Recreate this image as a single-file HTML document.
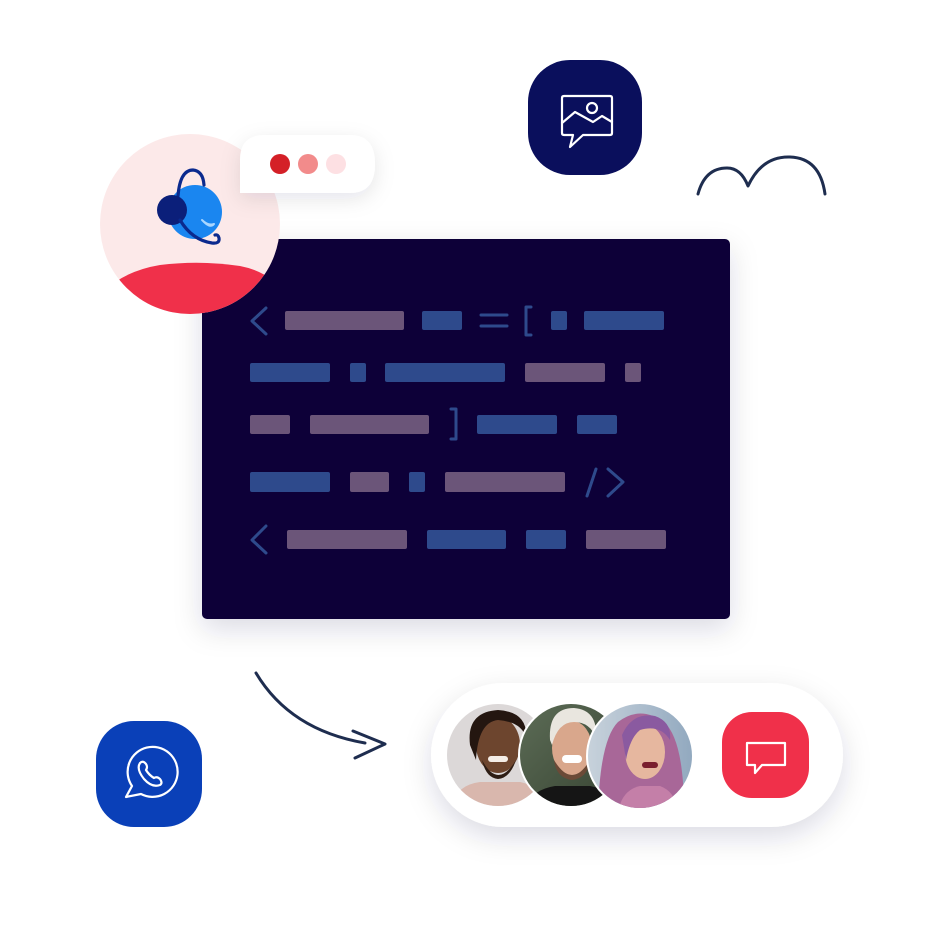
<!DOCTYPE html>
<html><head><meta charset="utf-8">
<style>
html,body{margin:0;padding:0;background:#fff;}
body{width:940px;height:945px;overflow:hidden;font-family:"Liberation Sans",sans-serif;}
svg{display:block;}
</style></head>
<body>
<svg width="940" height="945" viewBox="0 0 940 945" xmlns="http://www.w3.org/2000/svg">
<defs>
  <filter id="sh" x="-30%" y="-30%" width="160%" height="170%">
    <feDropShadow dx="0" dy="10" stdDeviation="14" flood-color="#1a1a40" flood-opacity="0.14"/>
  </filter>
  <filter id="sh2" x="-30%" y="-50%" width="160%" height="200%">
    <feDropShadow dx="0" dy="6" stdDeviation="10" flood-color="#1a1a40" flood-opacity="0.10"/>
  </filter>
  <clipPath id="cav"><circle cx="190" cy="224" r="90"/></clipPath>
  <clipPath id="c1"><circle cx="498" cy="755" r="51"/></clipPath>
  <clipPath id="c2"><circle cx="571" cy="755" r="51"/></clipPath>
  <clipPath id="c3"><circle cx="640" cy="756" r="52"/></clipPath>
  <linearGradient id="bg2" x1="0" y1="0" x2="1" y2="1">
    <stop offset="0" stop-color="#5e6e58"/><stop offset="1" stop-color="#34402f"/>
  </linearGradient>
  <linearGradient id="bg3" x1="0" y1="0" x2="1" y2="0">
    <stop offset="0" stop-color="#c9d3dc"/><stop offset="1" stop-color="#8ea6bd"/>
  </linearGradient>
</defs>

<!-- code panel -->
<rect x="202" y="239" width="528" height="380" rx="5" fill="#080439" filter="url(#sh)"/>

<!-- code tokens -->
<g stroke="#2e4a8c" stroke-width="3" fill="none" stroke-linecap="round" stroke-linejoin="round">
  <polyline points="266,308 252,321 266,334"/>
  <line x1="481" y1="315" x2="507" y2="315"/>
  <line x1="481" y1="326" x2="507" y2="326"/>
  <polyline points="531,307 526,307 526,335 531,335"/>
  <polyline points="451,409 456,409 456,439 451,439"/>
  <line x1="596" y1="469" x2="587" y2="496"/>
  <polyline points="608,469 623,482 608,496"/>
  <polyline points="266,526 252,540 266,553"/>
</g>
<g>
  <rect x="285" y="311" width="119" height="19" rx="2" fill="#6b5579"/>
  <rect x="422" y="311" width="40" height="19" rx="2" fill="#2e4a8c"/>
  <rect x="551" y="311" width="16" height="19" rx="2" fill="#2e4a8c"/>
  <rect x="584" y="311" width="80" height="19" rx="2" fill="#2e4a8c"/>
  <rect x="250" y="363" width="80" height="19" rx="2" fill="#2e4a8c"/>
  <rect x="350" y="363" width="16" height="19" rx="2" fill="#2e4a8c"/>
  <rect x="385" y="363" width="120" height="19" rx="2" fill="#2e4a8c"/>
  <rect x="525" y="363" width="80" height="19" rx="2" fill="#6b5579"/>
  <rect x="625" y="363" width="16" height="19" rx="2" fill="#6b5579"/>
  <rect x="250" y="415" width="40" height="19" rx="2" fill="#6b5579"/>
  <rect x="310" y="415" width="119" height="19" rx="2" fill="#6b5579"/>
  <rect x="477" y="415" width="80" height="19" rx="2" fill="#2e4a8c"/>
  <rect x="577" y="415" width="40" height="19" rx="2" fill="#2e4a8c"/>
  <rect x="250" y="472" width="80" height="20" rx="2" fill="#2e4a8c"/>
  <rect x="350" y="472" width="39" height="20" rx="2" fill="#6b5579"/>
  <rect x="409" y="472" width="16" height="20" rx="2" fill="#2e4a8c"/>
  <rect x="445" y="472" width="120" height="20" rx="2" fill="#6b5579"/>
  <rect x="287" y="530" width="120" height="19" rx="2" fill="#6b5579"/>
  <rect x="427" y="530" width="79" height="19" rx="2" fill="#2e4a8c"/>
  <rect x="526" y="530" width="40" height="19" rx="2" fill="#2e4a8c"/>
  <rect x="586" y="530" width="80" height="19" rx="2" fill="#6b5579"/>
</g>

<!-- avatar circle -->
<circle cx="190" cy="224" r="90" fill="#fce9e9"/>
<g clip-path="url(#cav)">
  <path d="M96 300 Q118 272 160 265 Q200 260 240 266 Q272 272 292 300 L292 320 L96 320 Z" fill="#f0304a"/>
</g>
<!-- agent head -->
<circle cx="195" cy="212" r="27" fill="#1a86f0"/>
<path d="M202 220 Q208 226 214 224 Q210 229 202 220 Z" fill="#a9d6ff" stroke="#a9d6ff" stroke-width="2" stroke-linejoin="round"/>
<path d="M178 196 Q180 170 193 170 Q203 171 204 185" stroke="#0b2a8e" stroke-width="3.2" fill="none" stroke-linecap="round"/>
<circle cx="172" cy="210" r="15" fill="#0b1f7a"/>
<path d="M180 220 Q192 240 212 243 Q220 244 219 238 Q218 234 215 235" stroke="#0b2a8e" stroke-width="3.2" fill="none" stroke-linecap="round"/>

<!-- bubble -->
<path d="M240 160 Q240 135 265 135 L350 135 Q375 135 375 164 Q375 193 350 193 L240 193 Z" fill="#fff" filter="url(#sh2)"/>
<circle cx="280" cy="164" r="10" fill="#d42027"/>
<circle cx="308" cy="164" r="10" fill="#f28b8b"/>
<circle cx="336" cy="164" r="10" fill="#fde0e3"/>

<!-- image icon -->
<rect x="528" y="60" width="114" height="115" rx="42" fill="#0a0f5c"/>
<g stroke="#fff" stroke-width="2.2" fill="none" stroke-linejoin="round" stroke-linecap="round">
  <path d="M573 135 L564 135 Q562 135 562 133 L562 98 Q562 96 564 96 L610 96 Q612 96 612 98 L612 133 Q612 135 610 135 L583 135 L570 147 Z"/>
  <circle cx="592" cy="108" r="5"/>
  <path d="M562 123 L575 112 L593 122 L602 116 L612 122"/>
</g>

<!-- squiggle -->
<path d="M698 194 Q705 168 727 168 Q741 168 748 186 Q762 156 790 157 Q820 158 825 194" stroke="#1e2d4f" stroke-width="3" fill="none" stroke-linecap="round" stroke-linejoin="round"/>

<!-- arrow -->
<g stroke="#1e2d4f" stroke-width="3" fill="none" stroke-linecap="round" stroke-linejoin="round">
  <path d="M256 673 Q290 730 365 743"/>
  <path d="M353 731 L385 744 L355 758"/>
</g>

<!-- whatsapp -->
<rect x="96" y="721" width="106" height="106" rx="38" fill="#0a40b8"/>
<g stroke="#fff" stroke-width="2.2" fill="none" stroke-linecap="round" stroke-linejoin="round">
  <path d="M126 797 L132 786 A25 25 0 1 1 141 794 Z"/>
  <path d="M140 763 Q136 769 144 779 Q152 788 160 785 Q163 783 160 779 Q157 776 154 778 Q149 775 146 770 Q148 767 146 764 Q143 760 140 763 Z"/>
</g>

<!-- pill -->
<rect x="431" y="683" width="412" height="144" rx="72" fill="#fff" filter="url(#sh)"/>

<!-- avatar 1 -->
<g clip-path="url(#c1)">
  <rect x="440" y="700" width="120" height="110" fill="#dcd8d8"/>
  <path d="M450 810 Q455 785 480 782 L520 782 Q542 786 548 810 Z" fill="#d9b7ad"/>
  <ellipse cx="498" cy="745" rx="22" ry="28" fill="#6d452e"/>
  <path d="M470 745 Q466 712 498 710 Q528 712 526 738 Q522 722 498 720 Q478 722 476 760 Z" fill="#241610"/>
  <path d="M482 760 Q498 790 516 760 Q510 778 498 779 Q486 778 482 760 Z" fill="#2e1d14"/>
  <rect x="488" y="756" width="20" height="6" rx="3" fill="#f4ede6"/>
</g>
<!-- avatar 2 -->
<circle cx="571" cy="755" r="53" fill="#fff"/>
<g clip-path="url(#c2)">
  <rect x="515" y="700" width="115" height="115" fill="url(#bg2)"/>
  <path d="M525 810 Q530 790 555 786 L590 786 Q612 790 618 810 Z" fill="#151515"/>
  <ellipse cx="572" cy="748" rx="20" ry="27" fill="#d9a78c"/>
  <path d="M550 740 Q548 708 574 708 Q598 710 596 738 Q590 722 574 722 Q558 722 552 745 Z" fill="#e9e6df"/>
  <path d="M554 760 Q572 790 590 760 Q588 778 572 780 Q556 778 554 760 Z" fill="#6b4a37"/>
  <rect x="562" y="755" width="20" height="8" rx="4" fill="#fff"/>
</g>
<!-- avatar 3 -->
<circle cx="640" cy="756" r="54" fill="#fff"/>
<g clip-path="url(#c3)">
  <rect x="585" y="700" width="115" height="115" fill="url(#bg3)"/>
  <path d="M598 812 Q600 740 618 722 Q640 705 664 722 Q684 740 684 812 Z" fill="#a86798"/>
  <ellipse cx="645" cy="752" rx="20" ry="27" fill="#e6b79f"/>
  <path d="M622 735 Q632 712 655 716 Q672 722 670 740 Q660 724 640 730 Q630 738 626 760 Z" fill="#8a5aa0"/>
  <path d="M618 812 Q622 790 640 786 L660 786 Q676 792 678 812 Z" fill="#c47fa8"/>
  <rect x="642" y="762" width="16" height="6" rx="3" fill="#7a1f2e"/>
</g>

<!-- red chat button -->
<rect x="722" y="712" width="87" height="86" rx="30" fill="#f0304a"/>
<path d="M747 743 L785 743 L785 765 L762 765 L755 773 L755 765 L747 765 Z" stroke="#fff" stroke-width="2.2" fill="none" stroke-linejoin="round"/>
</svg>
</body></html>
